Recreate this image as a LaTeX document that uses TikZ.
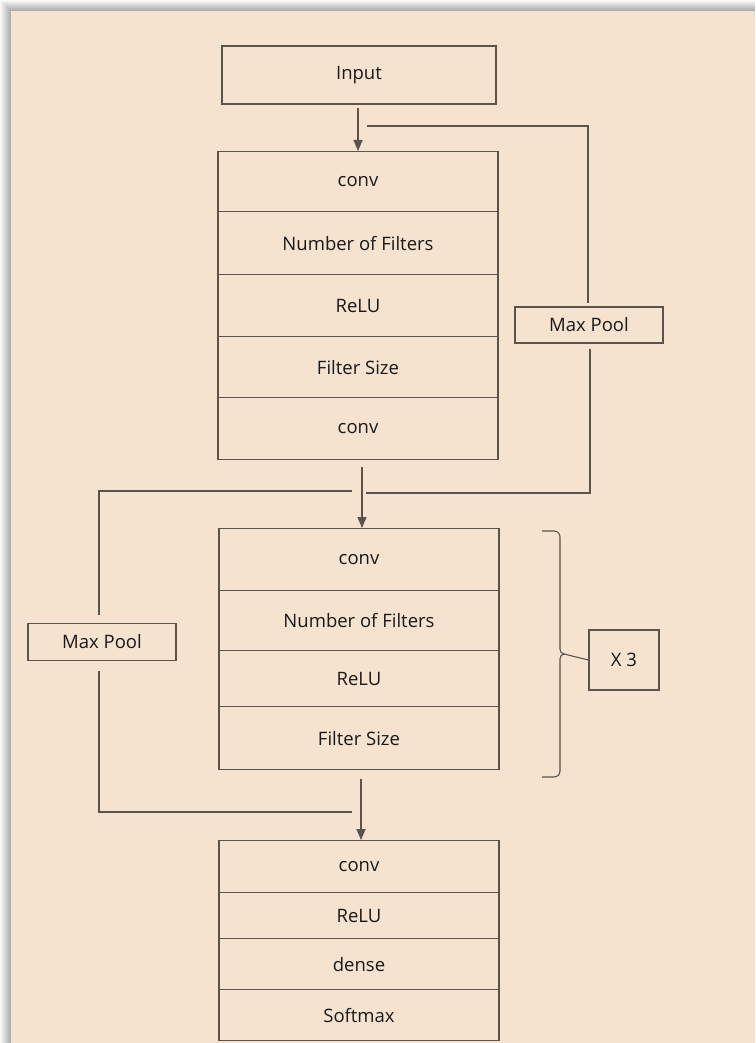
\documentclass[tikz,border=0pt]{standalone}
\usepackage{fontspec}
\setmainfont{Open Sans}
\usetikzlibrary{arrows.meta,positioning,calc}
\definecolor{paper}{HTML}{F5E3CF}
\definecolor{ink}{HTML}{5B534C}

\tikzset{
  layer/.style={draw=ink, line width=1.3pt, minimum width=280pt, inner sep=0pt,
    font=\fontsize{18.5}{22}\selectfont, text=black!90},
  pool/.style={layer, minimum width=148pt, minimum height=37pt},
  flow/.style={draw=ink, line width=1.3pt, -{Triangle[length=11pt,width=9pt]}},
  skip/.style={draw=ink, line width=1.3pt}
}

\begin{document}
\begin{tikzpicture}[x=1pt,y=-1pt]
\useasboundingbox (0,0) rectangle (755,1043);
% page and its shadow
\foreach \i in {0,...,10}{
  \pgfmathtruncatemacro\g{2+3*\i}
  \fill[black!\g] (\i,\i) rectangle (755,1043);
}
\fill[paper] (11,11) rectangle (755,1043);

\node[layer, minimum width=274pt, minimum height=58pt] (input) at (359,75) {Input};

% first block
\node[layer, minimum height=60pt, anchor=north] (c1a) at (358,151) {\raisebox{-3pt}{conv}};
\node[layer, minimum height=63pt, anchor=north] (c1b) at (358,211) {Number of Filters};
\node[layer, minimum height=62pt, anchor=north] (c1c) at (358,274) {ReLU};
\node[layer, minimum height=61pt, anchor=north] (c1d) at (358,336) {Filter Size};
\node[layer, minimum height=62pt, anchor=north] (c1e) at (358,397) {conv};

% repeated block
\node[layer, minimum height=62pt, anchor=north] (c2a) at (359,528) {conv};
\node[layer, minimum height=60pt, anchor=north] (c2b) at (359,590) {Number of Filters};
\node[layer, minimum height=56pt, anchor=north] (c2c) at (359,650) {\raisebox{-3pt}{ReLU}};
\node[layer, minimum height=63pt, anchor=north] (c2d) at (359,706) {Filter Size};

% output block
\node[layer, minimum height=52pt, anchor=north] (outa) at (359,840) {\raisebox{-6pt}{conv}};
\node[layer, minimum height=46pt, anchor=north] (outb) at (359,892) {\raisebox{-9pt}{ReLU}};
\node[layer, minimum height=51pt, anchor=north] (outc) at (359,938) {\raisebox{-8pt}{dense}};
\node[layer, minimum height=51pt, anchor=north] (outd) at (359,989) {\raisebox{-3pt}{Softmax}};

\node[pool, minimum height=36pt] (mpR) at (589,325) {Max Pool};
\node[pool] (mpL) at (102,642) {Max Pool};
\node[layer, minimum width=70pt, minimum height=60pt] (rep) at (624,660) {X 3};

\draw[flow, shorten <=3pt] ([xshift=-1pt]input.south) -- (c1a.north);
\draw[flow, shorten <=7pt] ([xshift=4pt]c1e.south) -- ([xshift=3pt]c2a.north);
\draw[flow, shorten <=9pt] ([xshift=2pt]c2d.south) -- ([xshift=2pt]outa.north);

% skip paths through max pooling
\coordinate (fbR) at (367,126);
\coordinate (jR) at (366,493);
\coordinate (jL) at (352,491);
\coordinate (jB) at (352,812);
\draw[skip] (fbR) -| ([xshift=-1pt,yshift=3pt]mpR.north);
\draw[skip] ([xshift=1pt,yshift=-5pt]mpR.south) |- (jR);
\draw[skip] (jL) -| ([xshift=-3pt,yshift=8pt]mpL.north);
\draw[skip] ([xshift=-3pt,yshift=-10pt]mpL.south) |- (jB);

% brace for the repeat
\coordinate (tip) at (564,654);
\draw[skip, line width=1.1pt] (542,531) -- (554,531) to[out=0,in=90] (560,537) -- (560,649)
  to[out=-90,in=180] (tip) to[out=180,in=90] (560,659) -- (560,771)
  to[out=-90,in=0] (554,777) -- (542,777);
\draw[skip, line width=1.1pt] (tip) -- (rep.west);
\end{tikzpicture}
\end{document}
